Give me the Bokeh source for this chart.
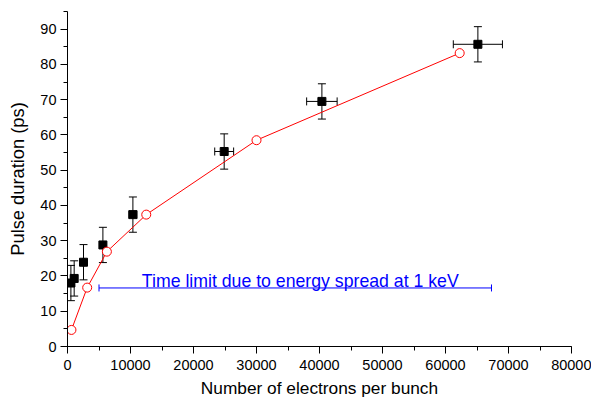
from bokeh.plotting import figure
from bokeh.models import (ColumnDataSource, Range1d, SingleIntervalTicker, Whisker,
                          TeeHead, Label)
from bokeh.embed import file_html
from bokeh.resources import INLINE

# measured data (black squares with error bars)
meas_n = [540, 1060, 2540, 5620, 10380, 24870, 40380, 65140]
meas_t = [18.0, 19.3, 23.9, 28.8, 37.4, 55.3, 69.5, 85.7]
meas_terr = [5.0, 5.0, 5.0, 5.0, 5.0, 5.0, 5.0, 5.0]
meas_nerr = [30, 60, 150, 340, 620, 1500, 2420, 3900]

# simulation (red open circles)
sim_n = [625, 3125, 6250, 12500, 30000, 62250]
sim_t = [4.7, 16.7, 26.9, 37.4, 58.5, 83.2]

# energy-spread time limit (blue bar)
limit_n_start = [5000]
limit_n_end = [67300]
limit_t = [16.6]
limit_text = "Time limit due to energy spread at 1 keV"
limit_text_pos = [11800, 18.6]

x_title = "Number of electrons per bunch"
y_title = "Pulse duration (ps)"

x_ticks_interval = 10000
y_ticks_interval = 10

FONT = "Liberation Sans"

p = figure(width=591, height=401, output_backend="svg", toolbar_location=None,
           x_range=Range1d(0, 80000), y_range=Range1d(0, 95),
           min_border_left=67, min_border_right=20, min_border_top=11,
           min_border_bottom=55)
p.outline_line_color = None
p.grid.visible = False
p.background_fill_color = "white"
p.border_fill_color = "white"

meas = ColumnDataSource(dict(
    x=meas_n, y=meas_t,
    yu=[t + e for t, e in zip(meas_t, meas_terr)],
    yl=[t - e for t, e in zip(meas_t, meas_terr)],
    xu=[n + e for n, e in zip(meas_n, meas_nerr)],
    xl=[n - e for n, e in zip(meas_n, meas_nerr)],
))

vw = Whisker(source=meas, base="x", upper="yu", lower="yl", dimension="height",
             line_color="black", line_width=1,
             upper_head=TeeHead(size=8, line_color="black", line_width=1),
             lower_head=TeeHead(size=8, line_color="black", line_width=1))
hw = Whisker(source=meas, base="y", upper="xu", lower="xl", dimension="width",
             line_color="black", line_width=1,
             upper_head=TeeHead(size=8, line_color="black", line_width=1),
             lower_head=TeeHead(size=8, line_color="black", line_width=1))
p.add_layout(vw)
p.add_layout(hw)
p.scatter("x", "y", source=meas, marker="square", size=8,
          fill_color="black", line_color="black")

lim = ColumnDataSource(dict(y=limit_t, lo=limit_n_start, hi=limit_n_end))
bw = Whisker(source=lim, base="y", upper="hi", lower="lo", dimension="width",
             line_color="#0000ff", line_width=1,
             upper_head=TeeHead(size=7, line_color="#0000ff", line_width=1),
             lower_head=TeeHead(size=7, line_color="#0000ff", line_width=1))
p.add_layout(bw)

p.line(sim_n, sim_t, line_color="#ff0000", line_width=1)
p.scatter(sim_n, sim_t, marker="circle", size=9, fill_color="white",
          line_color="#ff0000", line_width=1)

p.add_layout(Label(x=limit_text_pos[0], y=limit_text_pos[1], text=limit_text,
                   text_font=FONT, text_font_size="17.7px", text_color="#0000ff",
                   text_baseline="alphabetic", text_align="left"))

for ax in (p.xaxis[0], p.yaxis[0]):
    ax.axis_line_color = "black"
    ax.axis_line_width = 1
    ax.major_tick_line_color = "black"
    ax.minor_tick_line_color = "black"
    ax.major_tick_in = 0
    ax.major_tick_out = 7
    ax.minor_tick_in = 0
    ax.minor_tick_out = 4
    ax.major_label_text_font = FONT
    ax.major_label_text_font_size = "14.5px"
    ax.major_label_text_color = "black"
    ax.axis_label_text_font = FONT
    ax.axis_label_text_font_style = "normal"
    ax.axis_label_text_color = "black"
    ax.major_label_standoff = 4

p.xaxis[0].major_label_standoff = 6
p.xaxis[0].ticker = SingleIntervalTicker(interval=x_ticks_interval, num_minor_ticks=2)
p.yaxis[0].ticker = SingleIntervalTicker(interval=y_ticks_interval, num_minor_ticks=2)
p.xaxis[0].axis_label = x_title
p.xaxis[0].axis_label_text_font_size = "17.3px"
p.xaxis[0].axis_label_standoff = 5
p.yaxis[0].axis_label = y_title
p.yaxis[0].axis_label_text_font_size = "18.3px"
p.yaxis[0].axis_label_standoff = 9

open("out.html", "w").write(file_html(p, INLINE))
